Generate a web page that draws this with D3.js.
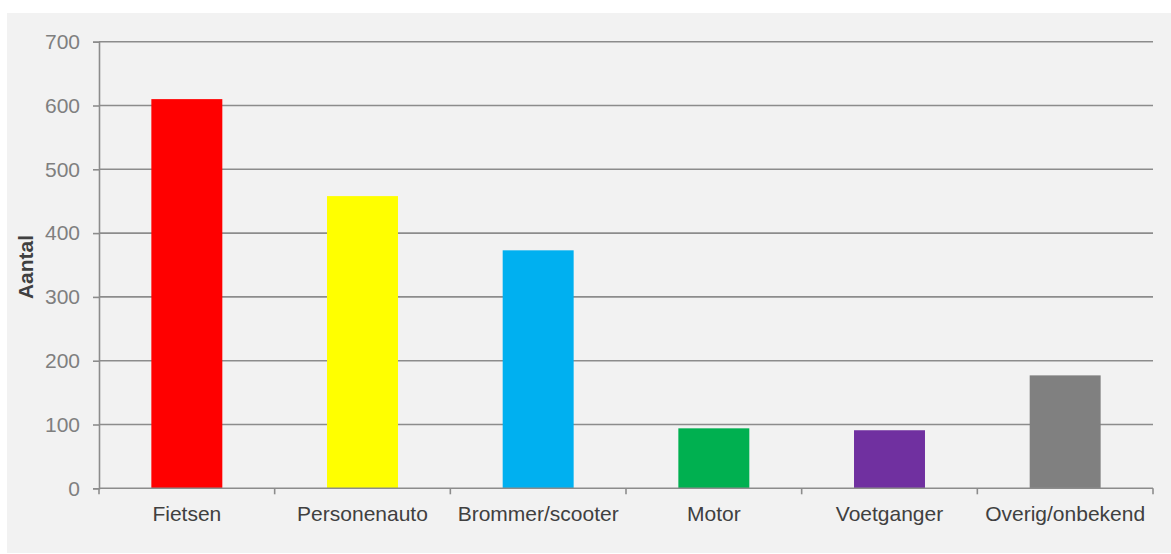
<!DOCTYPE html>
<html>
<head>
<meta charset="utf-8">
<script src="https://cdn.jsdelivr.net/npm/d3@7"></script>
<style>
  html, body { margin: 0; padding: 0; background: #ffffff; }
  svg { display: block; font-family: "Liberation Sans", Arial, sans-serif; }
</style>
</head>
<body>
<svg id="chart" width="1171" height="554"></svg>
<script>
// Number of casualties by mode of transport
const categories = ["Fietsen", "Personenauto", "Brommer/scooter", "Motor", "Voetganger", "Overig/onbekend"];
const values = [610, 458, 373, 94, 91, 177];
const barColors = ["#ff0000", "#ffff00", "#00b0f0", "#00b050", "#7030a0", "#808080"];
const yTicks = [0, 100, 200, 300, 400, 500, 600, 700];
const yTitle = "Aantal";

const svg = d3.select("#chart");

// chart panel
svg.append("rect")
  .attr("x", 7).attr("y", 13)
  .attr("width", 1164).attr("height", 540)
  .attr("fill", "#f2f2f2");

const margin = { left: 99, right: 1153, top: 41.7, bottom: 488.3 };

const x = d3.scaleBand()
  .domain(categories)
  .range([margin.left, margin.right])
  .paddingInner(0.596)
  .paddingOuter(0.298);

const y = d3.scaleLinear()
  .domain([0, 700])
  .range([margin.bottom, margin.top]);

const gridColor = "#8c8c8c";

// horizontal gridlines
svg.append("g")
  .selectAll("line")
  .data(yTicks.filter(d => d > 0))
  .join("line")
  .attr("x1", margin.left).attr("x2", margin.right)
  .attr("y1", d => y(d)).attr("y2", d => y(d))
  .attr("stroke", gridColor)
  .attr("stroke-width", 1.6);

// bars
svg.append("g")
  .selectAll("rect")
  .data(categories)
  .join("rect")
  .attr("x", d => x(d))
  .attr("width", x.bandwidth())
  .attr("y", (d, i) => y(values[i]))
  .attr("height", (d, i) => y(0) - y(values[i]))
  .attr("fill", (d, i) => barColors[i]);

// y axis
const yAxis = svg.append("g")
  .attr("transform", `translate(${margin.left},0)`)
  .call(d3.axisLeft(y).tickValues(yTicks).tickSize(6).tickPadding(13));
yAxis.select(".domain").attr("stroke", gridColor).attr("stroke-width", 1.6);
yAxis.selectAll(".tick line").attr("stroke", gridColor).attr("stroke-width", 1.6);
yAxis.selectAll(".tick text")
  .attr("fill", "#7f7f7f")
  .attr("font-size", "21px")
  .attr("font-family", "Liberation Sans, Arial, sans-serif");

// x axis with ticks on category boundaries
const xAxisG = svg.append("g")
  .attr("transform", `translate(0,${margin.bottom})`);
xAxisG.append("line")
  .attr("x1", margin.left).attr("x2", margin.right)
  .attr("y1", 0).attr("y2", 0)
  .attr("stroke", gridColor).attr("stroke-width", 1.6);
const step = x.step();
const boundaries = d3.range(categories.length + 1).map(i => margin.left + i * step);
xAxisG.selectAll("line.tick")
  .data(boundaries)
  .join("line")
  .attr("class", "tick")
  .attr("x1", d => d).attr("x2", d => d)
  .attr("y1", 0).attr("y2", 6)
  .attr("stroke", gridColor).attr("stroke-width", 1.6);
xAxisG.selectAll("text")
  .data(categories)
  .join("text")
  .attr("x", d => x(d) + x.bandwidth() / 2)
  .attr("y", 33)
  .attr("text-anchor", "middle")
  .attr("fill", "#404040")
  .attr("font-size", "21px")
  .text(d => d);

// y axis title
svg.append("text")
  .attr("transform", `translate(32.5,${(margin.top + margin.bottom) / 2 + 2}) rotate(-90)`)
  .attr("text-anchor", "middle")
  .attr("fill", "#404040")
  .attr("font-size", "21px")
  .attr("font-weight", "bold")
  .text(yTitle);
</script>
</body>
</html>
